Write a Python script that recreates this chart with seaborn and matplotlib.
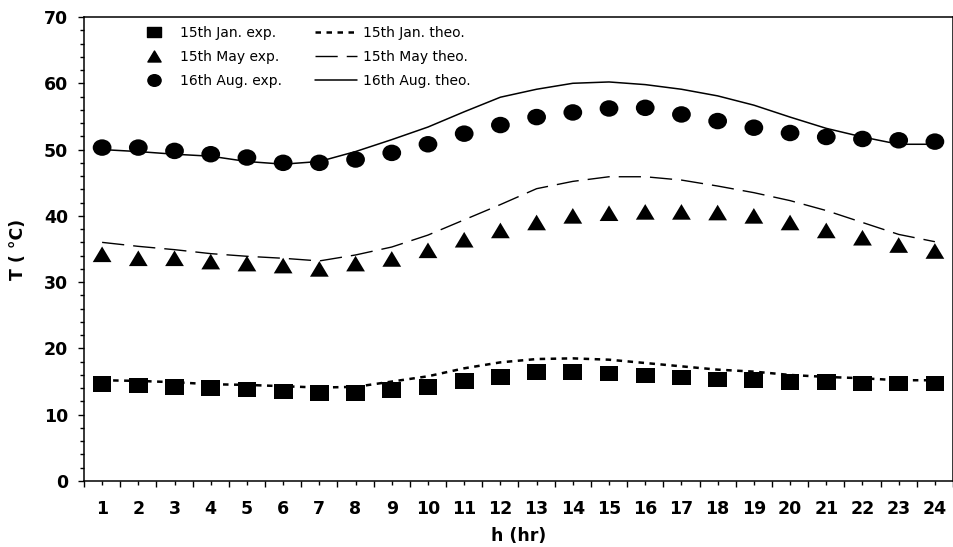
import matplotlib
matplotlib.use("Agg")
import matplotlib.pyplot as plt
from matplotlib.lines import Line2D
from matplotlib.path import Path
from matplotlib.ticker import MultipleLocator, FixedLocator
from matplotlib.transforms import Affine2D
import numpy as np
import pandas as pd
import seaborn as sns

hours = list(range(1, 25))

jan_exp = [14.6, 14.4, 14.2, 14.0, 13.8, 13.5, 13.3, 13.3, 13.7, 14.2, 15.1, 15.7,
           16.4, 16.4, 16.2, 15.9, 15.6, 15.3, 15.2, 14.9, 14.9, 14.7, 14.7, 14.7]
may_exp = [34.2, 33.6, 33.6, 33.1, 32.8, 32.5, 32.0, 32.8, 33.5, 34.8, 36.4, 37.8,
           39.0, 40.0, 40.4, 40.6, 40.6, 40.5, 40.0, 39.0, 37.8, 36.7, 35.6, 34.7]
aug_exp = [50.3, 50.3, 49.8, 49.3, 48.8, 48.0, 48.0, 48.5, 49.5, 50.8, 52.4, 53.7,
           54.9, 55.6, 56.2, 56.3, 55.3, 54.3, 53.3, 52.5, 51.9, 51.6, 51.4, 51.2]

jan_theo = [15.2, 15.1, 14.9, 14.6, 14.5, 14.3, 14.1, 14.2, 15.0, 15.8, 17.0, 17.9,
            18.4, 18.5, 18.3, 17.8, 17.3, 16.8, 16.5, 16.0, 15.7, 15.5, 15.2, 15.2]
may_theo = [36.0, 35.4, 34.9, 34.3, 33.9, 33.6, 33.2, 34.1, 35.3, 37.1, 39.4, 41.7,
            44.1, 45.2, 45.9, 45.9, 45.4, 44.5, 43.5, 42.3, 40.8, 39.0, 37.2, 36.1]
aug_theo = [50.0, 49.7, 49.3, 49.0, 48.2, 47.8, 48.2, 49.7, 51.5, 53.4, 55.7, 57.9,
            59.1, 60.0, 60.2, 59.8, 59.1, 58.1, 56.7, 54.9, 53.2, 51.9, 50.8, 50.8]

exp_labels = ["15th Jan. exp.", "15th May exp.", "16th Aug. exp."]
theo_labels = ["15th Jan. theo.", "15th May theo.", "16th Aug. theo."]
xtick_labels = [str(h) for h in hours]

sns.set_style("ticks")
plt.rcParams['font.family'] = ['DejaVu Sans']
plt.rcParams['text.color'] = 'black'
plt.rcParams['axes.labelcolor'] = 'black'
plt.rcParams['xtick.color'] = 'black'
plt.rcParams['ytick.color'] = 'black'

df = pd.DataFrame({
    "h": hours,
    "jan_exp": jan_exp, "may_exp": may_exp, "aug_exp": aug_exp,
    "jan_theo": jan_theo, "may_theo": may_theo, "aug_theo": aug_theo,
})

# slightly wide marker shapes (the original figure is horizontally stretched)
sq_marker = Path([(-0.6, -0.5), (0.6, -0.5), (0.6, 0.5), (-0.6, 0.5), (-0.6, -0.5)],
                 [Path.MOVETO, Path.LINETO, Path.LINETO, Path.LINETO, Path.CLOSEPOLY])
tri_marker = Path([(0.0, 0.5), (-0.6, -0.5), (0.6, -0.5), (0.0, 0.5)],
                  [Path.MOVETO, Path.LINETO, Path.LINETO, Path.CLOSEPOLY])
circ_marker = Path.unit_circle().transformed(Affine2D().scale(1.0, 0.88))

fig = plt.figure(figsize=(9.54, 5.47), dpi=100)
ax = fig.add_axes([84 / 954, 1 - 481 / 547, (953 - 84) / 954, (481 - 17) / 547])

jan_ls = (0, (2.2, 2.2))
may_ls = (0, (16, 6.5))

sns.lineplot(data=df, x="h", y="jan_theo", ax=ax, color="black", lw=1.8,
             linestyle=jan_ls, zorder=2)
sns.lineplot(data=df, x="h", y="may_theo", ax=ax, color="black", lw=1.0,
             linestyle=may_ls, zorder=2)
sns.lineplot(data=df, x="h", y="aug_theo", ax=ax, color="black", lw=1.1,
             linestyle="-", zorder=2)

sns.scatterplot(data=df, x="h", y="jan_exp", ax=ax, marker=sq_marker, s=13.5 ** 2,
                color="black", edgecolor="none", linewidth=0, zorder=3, legend=False)
sns.scatterplot(data=df, x="h", y="may_exp", ax=ax, marker=tri_marker, s=13.5 ** 2,
                color="black", edgecolor="none", linewidth=0, zorder=3, legend=False)
sns.scatterplot(data=df, x="h", y="aug_exp", ax=ax, marker=circ_marker, s=13.5 ** 2,
                color="black", edgecolor="none", linewidth=0, zorder=3, legend=False)

ax.set_xlim(0.5, 24.5)
ax.set_ylim(0, 70)

ax.xaxis.set_major_locator(FixedLocator(hours))
ax.set_xticklabels(xtick_labels)
ax.xaxis.set_minor_locator(FixedLocator([h + 0.5 for h in range(0, 25)]))
ax.yaxis.set_major_locator(MultipleLocator(10))
ax.yaxis.set_minor_locator(MultipleLocator(2))

ax.tick_params(axis="x", which="major", length=3, width=1, pad=11, direction="out",
               labelsize=12.5)
ax.tick_params(axis="x", which="minor", length=4.5, width=1, direction="out")
ax.tick_params(axis="y", which="major", length=4.5, width=1, pad=7, direction="out",
               labelsize=12.5)
ax.tick_params(axis="y", which="minor", length=3, width=1, direction="out")
for lab in ax.get_xticklabels() + ax.get_yticklabels():
    lab.set_fontweight("bold")

for sp in ax.spines.values():
    sp.set_visible(True)
    sp.set_linewidth(1.1)
    sp.set_color("black")

ax.set_xlabel("h (hr)", fontsize=12.5, fontweight="bold", labelpad=6)
ax.set_ylabel("T ( °C)", fontsize=12.5, fontweight="bold", labelpad=12)

handles = [
    Line2D([], [], marker=sq_marker, color="black", ls="none", markersize=9.5),
    Line2D([], [], marker=tri_marker, color="black", ls="none", markersize=9.5),
    Line2D([], [], marker=circ_marker, color="black", ls="none", markersize=9.5),
    Line2D([], [], color="black", lw=1.8, ls=jan_ls),
    Line2D([], [], color="black", lw=1.0, ls=may_ls),
    Line2D([], [], color="black", lw=1.1, ls="-"),
]
ax.legend(handles, exp_labels + theo_labels, ncol=2, loc="upper left",
          bbox_to_anchor=(0.049, 0.994), borderaxespad=0, borderpad=0.45,
          frameon=False, fontsize=10, handlelength=3.0, handletextpad=0.4,
          columnspacing=2.4, labelspacing=0.72)

fig.savefig("out.png", dpi=100)
